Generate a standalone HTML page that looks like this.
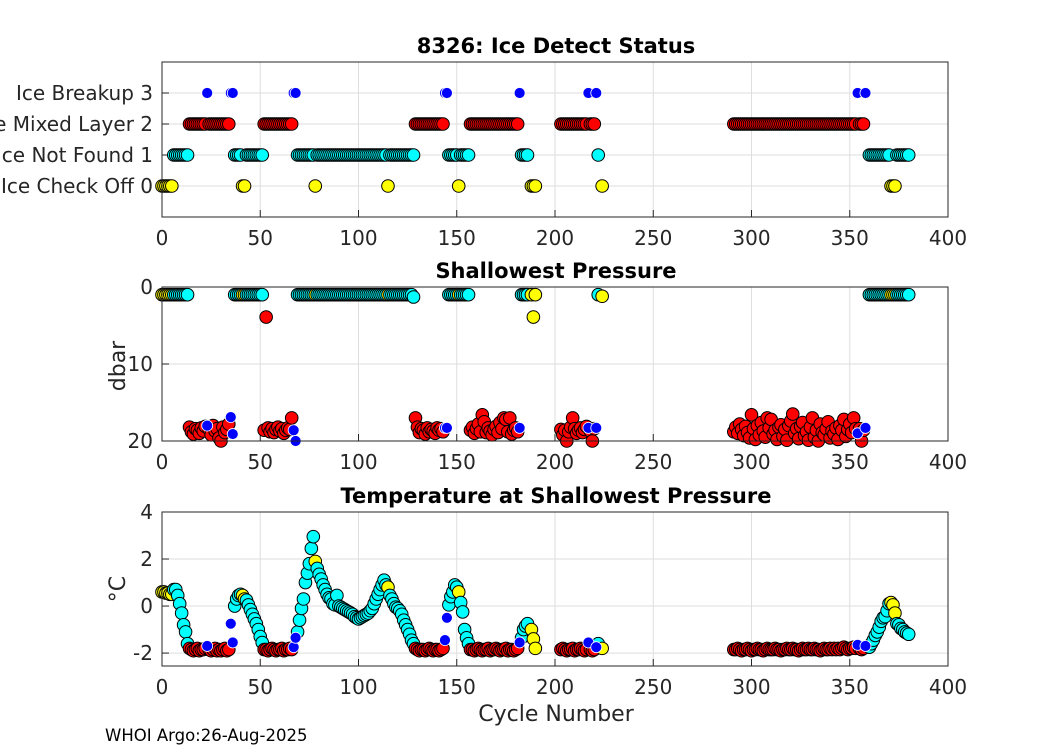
<!DOCTYPE html>
<html><head><meta charset="utf-8"><style>
body{margin:0;background:#fff;}
svg{display:block;font-family:"DejaVu Sans","Liberation Sans",sans-serif;}
</style></head><body>
<svg id="chart" width="1050" height="750" viewBox="0 0 1050 750">
<rect width="1050" height="750" fill="#fff"/>
<g id="g1"></g>
<g id="g2"></g>
<g id="g3"></g>
<text x="556" y="53" text-anchor="middle" font-size="21" font-weight="bold" fill="#000">8326: Ice Detect Status</text>
<text x="556" y="278" text-anchor="middle" font-size="21" font-weight="bold" fill="#000">Shallowest Pressure</text>
<text x="556" y="503" text-anchor="middle" font-size="21" font-weight="bold" fill="#000">Temperature at Shallowest Pressure</text>
<text x="556" y="721" text-anchor="middle" font-size="22" fill="#262626">Cycle Number</text>
<text transform="translate(125,366) rotate(-90)" text-anchor="middle" font-size="22" fill="#262626">dbar</text>
<text transform="translate(125,589) rotate(-90)" text-anchor="middle" font-size="22" fill="#262626">°C</text>
<text x="105" y="741" font-size="16.5" fill="#000">WHOI Argo:26-Aug-2025</text>
</svg>
<script>
const cycles=[0,1,2,3,4,5,6,7,8,9,10,11,12,13,
14,15,16,17,18,19,20,21,22,23,24,25,26,27,28,29,30,31,32,33,34,35,36,
37,38,39,40,41,42,43,44,45,46,47,48,49,50,51,
52,53,54,55,56,57,58,59,60,61,62,63,64,65,66,67,68,
69,70,71,72,73,74,75,76,77,78,
79,80,81,82,83,84,85,86,87,88,89,90,91,92,93,94,95,96,97,98,99,100,101,102,103,104,105,106,107,108,109,110,111,112,113,114,115,
116,117,118,119,120,121,122,123,124,125,126,127,128,
129,130,131,132,133,134,135,136,137,138,139,140,141,142,143,144,145,
146,147,148,149,150,151,152,153,154,155,156,
157,158,159,160,161,162,163,164,165,166,167,168,169,170,171,172,173,174,175,176,177,178,179,180,181,182,
183,184,185,186,188,189,190,
203,204,205,206,207,208,209,210,211,212,213,214,215,216,217,218,219,220,221,222,224,
291,292,293,294,295,296,297,298,299,300,301,302,303,304,305,306,307,308,309,310,311,312,313,314,315,316,317,318,319,320,321,322,323,324,325,326,327,328,329,330,331,332,333,334,335,336,337,338,339,340,341,342,343,344,345,346,347,348,349,350,351,352,353,354,355,356,357,358,
360,361,362,363,364,365,366,367,368,369,370,371,372,373,374,375,376,377,378,379,380];
const status=[0,0,0,0,0,0,1,1,1,1,1,1,1,1,
2,2,2,2,2,2,2,2,2,3,2,2,2,2,2,2,2,2,2,2,2,3,3,
1,1,1,1,0,0,1,1,1,1,1,1,1,1,1,
2,2,2,2,2,2,2,2,2,2,2,2,2,2,2,3,3,
1,1,1,1,1,1,1,1,1,0,
1,1,1,1,1,1,1,1,1,1,1,1,1,1,1,1,1,1,1,1,1,1,1,1,1,1,1,1,1,1,1,1,1,1,1,1,0,
1,1,1,1,1,1,1,1,1,1,1,1,1,
2,2,2,2,2,2,2,2,2,2,2,2,2,2,2,3,3,
1,1,1,1,1,0,1,1,1,1,1,
2,2,2,2,2,2,2,2,2,2,2,2,2,2,2,2,2,2,2,2,2,2,2,2,2,3,
1,1,1,1,0,0,0,
2,2,2,2,2,2,2,2,2,2,2,2,2,2,3,2,2,2,3,1,0,
2,2,2,2,2,2,2,2,2,2,2,2,2,2,2,2,2,2,2,2,2,2,2,2,2,2,2,2,2,2,2,2,2,2,2,2,2,2,2,2,2,2,2,2,2,2,2,2,2,2,2,2,2,2,2,2,2,2,2,2,2,2,2,3,2,2,2,3,
1,1,1,1,1,1,1,1,1,1,1,0,0,0,1,1,1,1,1,1,1];
const pressure=[1,1,1,1,1,1,1,1,1,1,1,1,1,1,
18.2,18.8,19.1,18.4,18.6,19.0,18.3,18.7,18.1,18.0,18.5,19.2,18.0,18.7,18.4,19.6,20.0,18.2,18.9,18.5,17.8,16.9,19.1,
1,1,1,1,1,1,1,1,1,1,1,1,1,1,1,
18.6,3.9,18.3,18.8,18.4,18.9,18.5,18.2,18.7,18.4,19.0,18.6,18.3,18.5,17.0,18.6,20.0,
1,1,1,1,1,1,1,1,1,1,
1,1,1,1,1,1,1,1,1,1,1,1,1,1,1,1,1,1,1,1,1,1,1,1,1,1,1,1,1,1,1,1,1,1,1,1,1,
1,1,1,1,1,1,1,1,1,1,1,1,1.3,
17.0,18.2,18.9,18.4,18.6,19.1,18.3,18.8,18.5,18.7,19.0,18.3,18.6,18.4,18.8,18.3,18.3,
1,1,1,1,1,1,1,1,1,1,1,
18.6,18.2,19.0,18.4,17.8,18.8,16.6,17.5,18.9,18.3,18.7,19.2,18.5,18.1,18.9,17.6,18.4,17.0,17.2,18.8,17.0,19.1,18.6,18.3,18.8,18.3,
1,1,1,1,1,3.9,1,
18.5,19.2,18.6,20.0,18.8,18.2,17.0,18.4,19.0,18.6,18.3,18.9,18.5,18.1,18.3,18.7,20.0,18.4,18.3,1,1.2,
18.8,18.2,19.0,17.8,18.5,19.3,18.1,18.9,19.6,16.6,
18.4,19.8,18.0,19.2,17.6,18.7,19.5,17.0,18.3,17.2,
19.1,18.6,19.8,18.2,17.9,19.4,18.5,19.9,18.0,17.4,
16.5,19.0,18.4,19.7,18.1,17.6,19.3,18.8,19.9,18.2,
17.0,19.5,18.6,20.0,17.8,18.9,19.2,18.4,17.5,19.6,
18.7,19.1,18.3,19.8,18.0,18.6,17.2,19.4,18.5,17.8,
18.9,17.0,18.4,19.0,18.4,20.0,18.6,18.3,
1,1,1,1,1,1,1,1,1,1,1,1,1,1,1,1,1,1,1,1,1];
const temperature=[0.6,0.6,0.55,0.55,0.5,0.5,0.7,0.7,0.45,0.1,-0.3,-0.8,-1.1,-1.6,
-1.8,-1.85,-1.9,-1.85,-1.8,-1.9,-1.85,-1.85,-1.8,-1.7,-1.85,-1.9,-1.85,-1.8,-1.9,-1.85,-1.9,-1.85,-1.8,-1.9,-1.85,-0.75,-1.55,
0,0.3,0.45,0.5,0.45,0.3,0.25,0.05,-0.15,-0.35,-0.55,-0.75,-1.0,-1.3,-1.55,
-1.85,-1.85,-1.9,-1.85,-1.8,-1.85,-1.9,-1.85,-1.85,-1.8,-1.9,-1.85,-1.85,-1.8,-1.85,-1.75,-1.35,
-1.1,-0.6,-0.1,0.3,1.0,1.4,1.8,2.45,2.95,1.9,
1.6,1.35,1.15,0.9,0.7,0.5,0.35,0.3,0.1,0.05,0.45,0.0,-0.05,-0.1,-0.15,-0.2,-0.25,-0.3,-0.35,-0.45,-0.5,-0.55,-0.5,-0.45,-0.4,-0.35,-0.3,-0.2,-0.1,0.1,0.3,0.5,0.7,0.9,1.1,0.9,0.8,
0.45,0.3,0.1,-0.05,-0.1,-0.2,-0.35,-0.6,-0.8,-1.0,-1.2,-1.45,-1.6,
-1.8,-1.85,-1.9,-1.85,-1.85,-1.9,-1.85,-1.8,-1.85,-1.9,-1.85,-1.85,-1.9,-1.85,-1.8,-1.45,-0.5,
0.05,0.4,0.6,0.9,0.8,0.6,0.15,-0.25,-1.0,-1.35,-1.6,
-1.85,-1.85,-1.9,-1.85,-1.8,-1.85,-1.9,-1.85,-1.85,-1.8,-1.9,-1.85,-1.85,-1.8,-1.85,-1.9,-1.85,-1.85,-1.8,-1.9,-1.85,-1.85,-1.9,-1.85,-1.8,-1.55,
-1.35,-1.0,-0.85,-0.75,-1.0,-1.4,-1.8,
-1.85,-1.8,-1.85,-1.9,-1.85,-1.85,-1.8,-1.9,-1.85,-1.85,-1.8,-1.85,-1.9,-1.85,-1.55,-1.85,-1.9,-1.85,-1.75,-1.6,-1.8,
-1.85,-1.85,-1.8,-1.85,-1.9,-1.85,-1.85,-1.8,-1.85,-1.9,
-1.85,-1.85,-1.8,-1.85,-1.85,-1.9,-1.85,-1.8,-1.85,-1.85,
-1.85,-1.8,-1.85,-1.85,-1.9,-1.85,-1.85,-1.8,-1.85,-1.85,
-1.8,-1.85,-1.85,-1.9,-1.85,-1.8,-1.85,-1.85,-1.8,-1.85,
-1.85,-1.8,-1.85,-1.85,-1.9,-1.85,-1.8,-1.85,-1.85,-1.8,
-1.85,-1.8,-1.85,-1.8,-1.85,-1.8,-1.75,-1.8,-1.85,-1.8,
-1.8,-1.75,-1.8,-1.65,-1.8,-1.85,-1.8,-1.7,
-1.75,-1.6,-1.45,-1.25,-1.1,-0.9,-0.65,-0.5,-0.45,-0.2,0.1,0.15,0.05,-0.3,-0.75,-0.8,-0.95,-1.0,-1.1,-1.15,-1.2];
const xTicks=[0,50,100,150,200,250,300,350,400];
const statusTicks=[0,1,2,3];
const statusLabels=["Ice Check Off 0","Ice Not Found 1","Ice Mixed Layer 2","Ice Breakup 3"];
const pressureTicks=[0,10,20];
const tempTicks=[-2,0,2,4];
const statusColors=["#ffff00","#00ffff","#ff0000","#0000ff"];

const NS="http://www.w3.org/2000/svg";
const X0=162,X1=948;
function xScale(v){return X0+(v-0)/(400-0)*(X1-X0);}
const panels=[
 {g:'g1',top:62,bot:217,d0:-1,d1:4,inv:false,ticks:statusTicks,labels:statusLabels,vals:status,name:'status'},
 {g:'g2',top:287,bot:441,d0:0,d1:20,inv:true,ticks:pressureTicks,labels:pressureTicks.map(String),vals:pressure,name:'pressure'},
 {g:'g3',top:512,bot:666,d0:-2.55,d1:4,inv:false,ticks:tempTicks,labels:tempTicks.map(String),vals:temperature,name:'temperature'}
];
function mk(tag,attrs,parent){const e=document.createElementNS(NS,tag);for(const k in attrs)e.setAttribute(k,attrs[k]);parent.appendChild(e);return e;}
panels.forEach(p=>{
 const g=document.getElementById(p.g);
 const yS=v=>p.inv? p.top+(v-p.d0)/(p.d1-p.d0)*(p.bot-p.top) : p.bot-(v-p.d0)/(p.d1-p.d0)*(p.bot-p.top);
 mk('rect',{x:X0,y:p.top,width:X1-X0,height:p.bot-p.top,fill:'#fff'},g);
 xTicks.forEach(t=>{
  const l=mk('line',{x1:xScale(t),x2:xScale(t),y1:p.top,y2:p.bot,stroke:'#dedede','stroke-width':1},g);
  
  
  mk('line',{x1:xScale(t),x2:xScale(t),y1:p.bot,y2:p.bot-7,stroke:'#262626'},g);
  const tx=mk('text',{x:xScale(t),y:p.bot+28,'text-anchor':'middle','font-size':20,fill:'#262626'},g);
  tx.textContent=t;
  
  
 });
 p.ticks.forEach((t,i)=>{
  const y=yS(t);
  const l=mk('line',{x1:X0,x2:X1,y1:y,y2:y,stroke:'#dedede','stroke-width':1},g);
  
  
  mk('line',{x1:X0,x2:X0+7,y1:y,y2:y,stroke:'#262626'},g);
  const tx=mk('text',{x:X0-9,y:y+7,'text-anchor':'end','font-size':20,fill:'#262626'},g);
  tx.textContent=p.labels[i];
  
  
 });
 const marks=mk('g',{},g);
 
 
 const order=[];
 cycles.forEach((c,i)=>{if(status[i]!==3)order.push(i);});
 cycles.forEach((c,i)=>{if(status[i]===3)order.push(i);});
 order.forEach(i=>{
  const s=status[i];
  const blue=s===3;
  const c=mk('circle',{cx:xScale(cycles[i]),cy:yS(p.vals[i]),r:blue?5.5:6.3,fill:statusColors[s],stroke:blue?'#ffffff':'#000','stroke-width':blue?0.8:1},marks);
  
  
 });
 const fr=mk('rect',{x:X0,y:p.top,width:X1-X0,height:p.bot-p.top,fill:'none',stroke:'#262626','stroke-width':1},g);
 
 
});
</script>
</body></html>
